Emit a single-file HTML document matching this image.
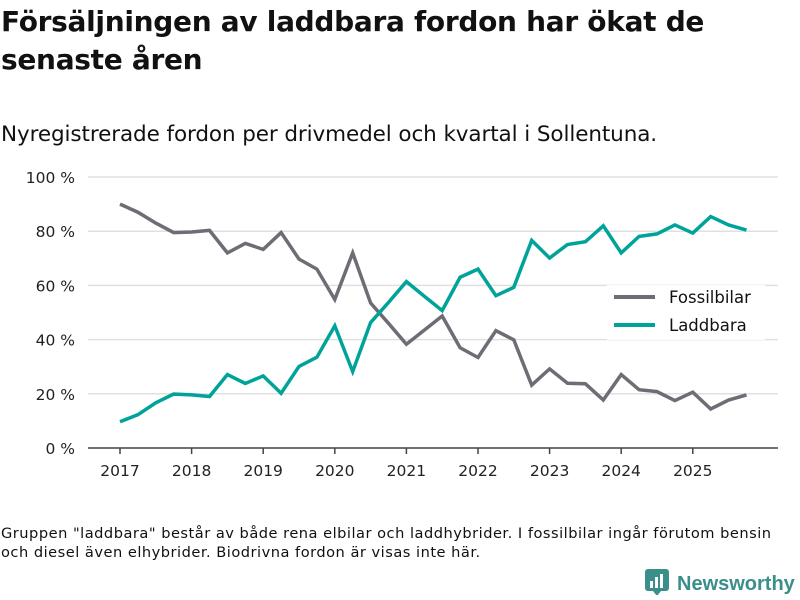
<!DOCTYPE html>
<html><head><meta charset="utf-8"><style>
body{margin:0;width:800px;height:600px;background:#fff;font-family:"DejaVu Sans",sans-serif;color:#111;overflow:hidden;position:relative}
#title{position:absolute;left:1px;top:3px;font-size:28px;font-weight:bold;line-height:38px;margin:0;width:760px;letter-spacing:-0.3px}
#sub{position:absolute;left:1px;top:122px;font-size:21.5px;letter-spacing:-0.1px;white-space:nowrap}
#foot{position:absolute;left:1px;top:524px;font-size:14.6px;line-height:19px;white-space:nowrap;letter-spacing:0.5px}
#logo{position:absolute;left:645px;top:569px;font-size:20px;font-weight:bold;color:#3a8f8a;white-space:nowrap;font-family:"Liberation Sans",sans-serif}
</style></head><body>
<h1 id="title">Försäljningen av laddbara fordon har ökat de senaste åren</h1>
<div id="sub">Nyregistrerade fordon per drivmedel och kvartal i Sollentuna.</div>
<svg id="chart" width="800" height="600" style="position:absolute;left:0;top:0"></svg>
<div id="foot">Gruppen "laddbara" består av både rena elbilar och laddhybrider. I fossilbilar ingår förutom bensin<br>och diesel även elhybrider. Biodrivna fordon är visas inte här.</div>
<div id="logo"><svg width="24" height="26" style="vertical-align:-5px;margin-right:8px"><rect x="0" y="0" width="24" height="22" rx="3" fill="#3a8f8a"/><path d="M8 22 L12 27 L16 22Z" fill="#3a8f8a"/><rect x="5" y="12" width="3" height="7" fill="#fff"/><rect x="10" y="8" width="3" height="11" fill="#fff"/><rect x="15" y="5" width="3" height="14" fill="#fff"/></svg>Newsworthy</div>
<script>
const years=[2017,2018,2019,2020,2021,2022,2023,2024,2025];
const yTicks=[0,20,40,60,80,100];
const fossil=[90,87,83,79.5,79.7,80.3,72,75.5,73.3,79.5,69.7,66,54.8,72,53.5,46,38.3,43.5,48.7,37,33.4,43.3,39.9,23.2,29.2,23.9,23.7,17.7,27.1,21.5,20.8,17.5,20.6,14.4,17.7,19.6];
const laddbara=[9.7,12.3,16.7,19.9,19.6,19,27.1,23.8,26.6,20.2,30.1,33.5,45.1,28.2,46.3,53.7,61.4,56,50.7,63,66,56.2,59.3,76.6,70.1,75.1,76.1,82,72,78.1,79,82.3,79.3,85.4,82.3,80.4];
const NS="http://www.w3.org/2000/svg";
const svg=document.getElementById('chart');
const x=t=>120+(t-2017)*71.6;
const y=v=>448-v*2.71;
function mk(tag,a){const e=document.createElementNS(NS,tag);for(const k in a)e.setAttribute(k,a[k]);svg.appendChild(e);return e;}
yTicks.forEach(v=>{
 if(v>0){const g=mk('line',{x1:88,x2:778,y1:y(v),y2:y(v),stroke:'#e0e0e0','stroke-width':1.5});
 
 }
 const t=mk('text',{x:75,y:y(v)+6,'text-anchor':'end','font-size':15.5,fill:'#222'});t.textContent=v+' %';
 
 
});
const ax=mk('line',{x1:88,x2:778,y1:448,y2:448,stroke:'#444','stroke-width':1.5});


years.forEach(yr=>{
 const tk=mk('line',{x1:x(yr),x2:x(yr),y1:448,y2:454,stroke:'#444','stroke-width':1.5});
 
 
 const t=mk('text',{x:x(yr),y:476,'text-anchor':'middle','font-size':15.5,fill:'#222'});t.textContent=yr;
 
 
});
function line(arr,color,name){
 const p=mk('polyline',{points:arr.map((v,i)=>x(2017+i/4)+','+y(v)).join(' '),fill:'none',stroke:color,'stroke-width':3.5,'stroke-linejoin':'miter'});
 
 
}
line(fossil,'#6e6d75','fossilbilar-line');
line(laddbara,'#00a39a','laddbara-line');
const lb=mk('rect',{x:607,y:285,width:158,height:55,fill:'#fff','fill-opacity':0.9});


[['Fossilbilar','#6e6d75',297],['Laddbara','#00a39a',325]].forEach(([n,c,yy])=>{
 const l=mk('line',{x1:614,x2:655,y1:yy,y2:yy,stroke:c,'stroke-width':4});
 
 
 const t=mk('text',{x:669,y:yy+6,'font-size':16.5,fill:'#111'});t.textContent=n;
 
 
});
</script>
</body></html>
